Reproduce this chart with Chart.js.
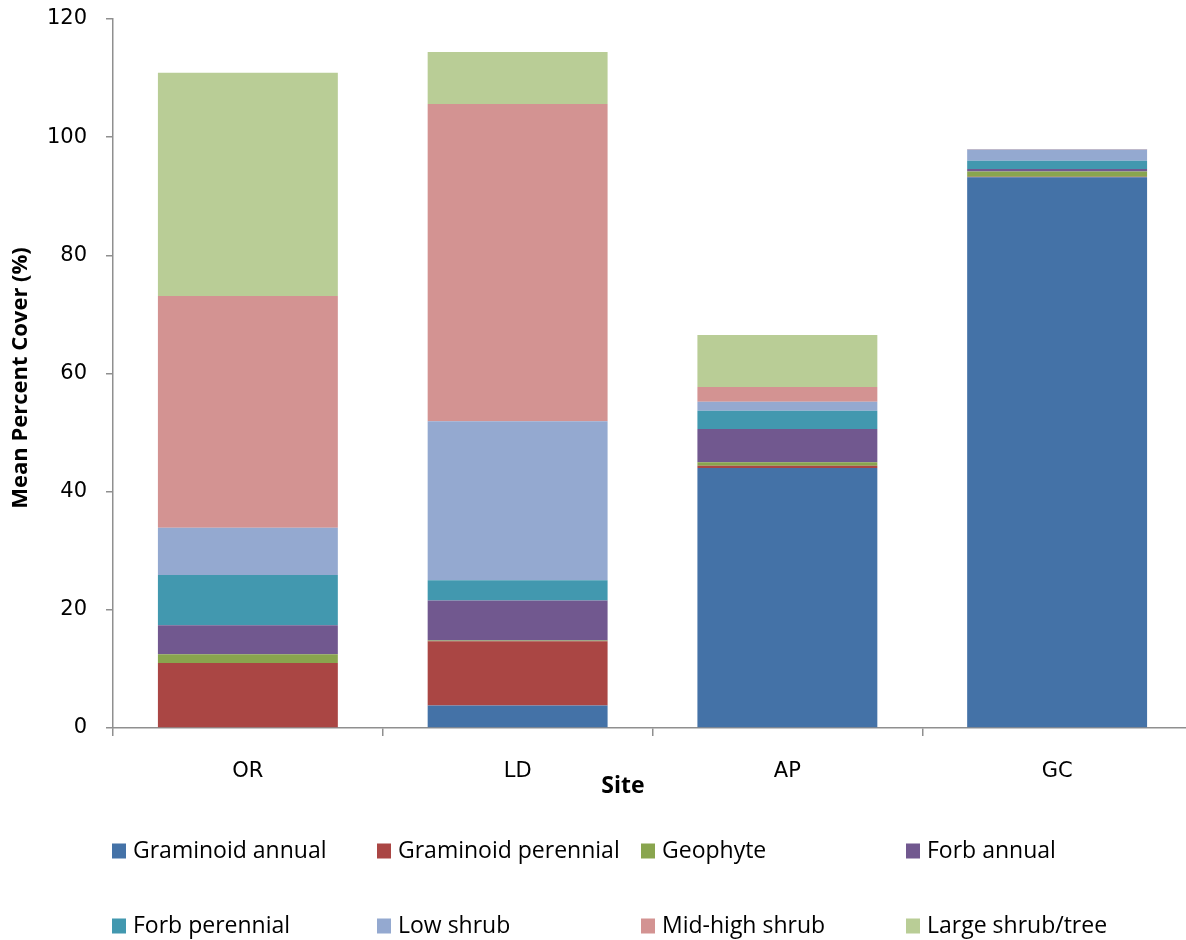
<!DOCTYPE html>
<html>
<head>
<meta charset="utf-8">
<title>Mean Percent Cover by Site</title>
<script src="https://cdn.jsdelivr.net/npm/chart.js@4.4.1/dist/chart.umd.min.js"></script>
<style>
  html, body { margin: 0; padding: 0; background: #fff; overflow: hidden; }
  #coverChart { display: block; }
</style>
</head>
<body>
<canvas id="coverChart" width="1194" height="940"></canvas>
<script>
// sites along the x axis
let sites = ["OR", "LD", "AP", "GC"];

// mean percent cover per functional group, one value per site
let graminoidAnnual = [0, 3.8, 44.0, 93.2];
let graminoidPerennial = [11.0, 10.9, 0.4, 0.1];
let geophyte = [1.5, 0.1, 0.6, 0.9];
let forbAnnual = [4.9, 6.8, 5.6, 0.4];
let forbPerennial = [8.5, 3.4, 3.1, 1.4];
let lowShrub = [8.0, 26.9, 1.5, 1.9];
let midHighShrub = [39.2, 53.7, 2.5, 0.1];
let largeShrubTree = [37.8, 8.8, 8.8, 0];

let groupNames = ["Graminoid annual", "Graminoid perennial", "Geophyte", "Forb annual",
                  "Forb perennial", "Low shrub", "Mid-high shrub", "Large shrub/tree"];
let groupValues = [graminoidAnnual, graminoidPerennial, geophyte, forbAnnual,
                   forbPerennial, lowShrub, midHighShrub, largeShrubTree];
let groupColors = ["#4472A7", "#AA4644", "#89A54E", "#71588F",
                   "#4298AF", "#94A9D0", "#D39392", "#B9CD96"];

let yTicks = [0, 20, 40, 60, 80, 100, 120];

let axisColor = "#8f8f8f";

let datasets = groupNames.map(function (name, i) {
    return {
        label: name,
        data: groupValues[i],
        backgroundColor: groupColors[i],
        borderWidth: 0,
        barPercentage: 0.667,
        categoryPercentage: 1.0
    };
});

// axis titles and the two-row legend under the plot
let decorPlugin = {
    id: "decor",
    afterDraw: function (chart) {
        let ctx = chart.ctx;
        ctx.save();
        ctx.fillStyle = "#000";

        ctx.font = "bold 23px 'Open Sans'";
        ctx.textAlign = "center";
        ctx.textBaseline = "middle";
        ctx.fillText("Site", 623, 786);

        ctx.save();
        ctx.font = "bold 22px 'Open Sans'";
        ctx.translate(21, 378);
        ctx.rotate(-Math.PI / 2);
        ctx.fillText("Mean Percent Cover (%)", 0, 0);
        ctx.restore();

        ctx.font = "23px 'Open Sans'";
        ctx.textAlign = "left";
        let colX = [112, 377, 641, 906];
        let rowY = [851, 926];
        chart.data.datasets.forEach(function (ds, i) {
            let x = colX[i % 4];
            let y = rowY[Math.floor(i / 4)];
            ctx.fillStyle = ds.backgroundColor;
            ctx.fillRect(x, y - 7.5, 14, 15);
            ctx.fillStyle = "#000";
            ctx.fillText(ds.label, x + 21, y);
        });
        ctx.restore();
    }
};

let ctx = document.getElementById("coverChart").getContext("2d");

let chart = new Chart(ctx, {
    type: "bar",
    data: {
        labels: sites,
        datasets: datasets
    },
    options: {
        responsive: false,
        devicePixelRatio: 1,
        animation: false,
        layout: {
            padding: { top: 19, right: 2, bottom: 0, left: 0 }
        },
        plugins: {
            legend: { display: false },
            tooltip: { enabled: false }
        },
        scales: {
            x: {
                stacked: true,
                grid: {
                    offset: true,
                    drawOnChartArea: false,
                    tickLength: 8,
                    color: axisColor,
                    lineWidth: 1.5
                },
                border: { color: axisColor, width: 1.5 },
                ticks: {
                    color: "#000",
                    padding: 23,
                    font: { family: "'DejaVu Sans'", size: 21 }
                },
                afterFit: function (scale) { scale.height = 212; }
            },
            y: {
                stacked: true,
                min: 0,
                max: 120,
                afterBuildTicks: function (scale) {
                    scale.ticks = yTicks.map(function (v) { return { value: v }; });
                },
                grid: {
                    drawOnChartArea: false,
                    tickLength: 7,
                    color: axisColor,
                    lineWidth: 1.5
                },
                border: { color: axisColor, width: 1.5 },
                ticks: {
                    color: "#000",
                    padding: 19,
                    font: { family: "'DejaVu Sans'", size: 21 }
                },
                afterFit: function (scale) {
                    scale.width = 113;
                    scale.paddingTop = 0;
                    scale.paddingBottom = 0;
                }
            }
        }
    },
    plugins: [decorPlugin]
});
</script>
</body>
</html>
